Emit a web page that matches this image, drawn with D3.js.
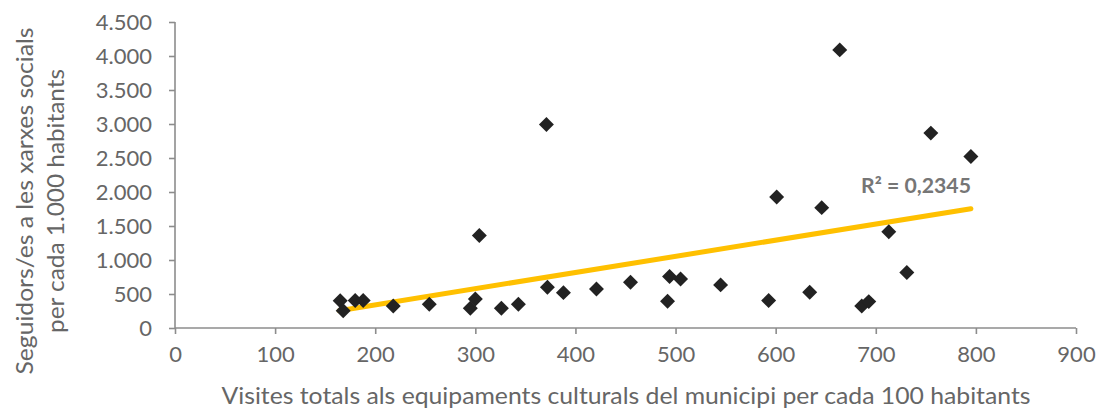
<!DOCTYPE html>
<html>
<head>
<meta charset="utf-8">
<script src="https://cdn.jsdelivr.net/npm/d3@7"></script>
<style>
  html, body { margin: 0; padding: 0; background: #fff; }
  svg { display: block; }
  text { font-family: Lato, "Open Sans", sans-serif; }
</style>
</head>
<body>
<svg id="chart" width="1097" height="410"></svg>
<script>
// ---- data ----
const visites = [165, 168, 180, 188, 218, 254, 295, 300, 304, 326, 343, 371, 372, 388, 421, 455, 492, 494, 505, 545, 593, 601, 634, 646, 664, 686, 693, 713, 731, 755, 795];
const seguidors = [400, 255, 403, 403, 324, 350, 290, 428, 1361, 290, 350, 2994, 600, 520, 575, 674, 394, 757, 722, 634, 403, 1928, 527, 1770, 4090, 324, 388, 1416, 816, 2866, 2522];
const trendX = [164, 795];
const trendY = [255, 1755];
const xTicks = [0, 100, 200, 300, 400, 500, 600, 700, 800, 900];
const yTicks = [0, 500, 1000, 1500, 2000, 2500, 3000, 3500, 4000, 4500];
const xTitle = "Visites totals als equipaments culturals del municipi per cada 100 habitants";
const yTitleLines = ["Seguidors/es a les xarxes socials", "per cada 1.000 habitants"];
const r2Label = "R² = 0,2345";

// ---- layout ----
const svg = d3.select("#chart");
const x = d3.scaleLinear().domain([0, 900]).range([175, 1076]);
const y = d3.scaleLinear().domain([0, 4500]).range([328, 22]);
const axisColor = "#8c8c8c";
const textColor = "#666666";
const fmt = v => d3.format(",")(v).replace(/,/g, ".");

// x axis
const gx = svg.append("g").attr("transform", `translate(0,${y(0)})`)
  .call(d3.axisBottom(x).tickValues(xTicks).tickSize(6).tickPadding(12).tickFormat(d => d));
gx.select(".domain").attr("stroke", axisColor).attr("stroke-width", 1.6)
  .attr("d", `M${x(0)},0H${x(900)}`);
gx.selectAll(".tick line").attr("stroke", axisColor).attr("stroke-width", 1.6);
gx.selectAll(".tick text").attr("fill", textColor).style("font-size", "22px")
  .style("font-family", "Lato, 'Open Sans', sans-serif");

// y axis
const gy = svg.append("g").attr("transform", `translate(${x(0)},0)`)
  .call(d3.axisLeft(y).tickValues(yTicks).tickSize(6).tickPadding(17).tickFormat(fmt));
gy.select(".domain").attr("stroke", axisColor).attr("stroke-width", 1.6)
  .attr("d", `M0,${y(4500)}V${y(0)}`);
gy.selectAll(".tick line").attr("stroke", axisColor).attr("stroke-width", 1.6);
gy.selectAll(".tick text").attr("fill", textColor).style("font-size", "22px")
  .style("font-family", "Lato, 'Open Sans', sans-serif");

// trend line
svg.append("line")
  .attr("x1", x(trendX[0])).attr("y1", y(trendY[0]))
  .attr("x2", x(trendX[1])).attr("y2", y(trendY[1]))
  .attr("stroke", "#FFC000").attr("stroke-width", 5).attr("stroke-linecap", "round");

// points (diamonds)
const diamond = d3.symbol().type(d3.symbolSquare).size(112);
svg.append("g").selectAll("path").data(visites.map((v, i) => [v, seguidors[i]]))
  .join("path")
  .attr("d", diamond)
  .attr("transform", d => `translate(${x(d[0])},${y(d[1])}) rotate(45)`)
  .attr("fill", "#222222");

// R² label
svg.append("text")
  .attr("x", 971).attr("y", 193)
  .attr("text-anchor", "end")
  .attr("fill", "#767676")
  .style("font-size", "21px").style("font-weight", "bold")
  .attr("textLength", 110).attr("lengthAdjust", "spacingAndGlyphs")
  .text(r2Label);

// x title
svg.append("text")
  .attr("x", 626).attr("y", 404)
  .attr("text-anchor", "middle")
  .attr("fill", textColor)
  .style("font-size", "24px")
  .attr("textLength", 809).attr("lengthAdjust", "spacingAndGlyphs")
  .text(xTitle);

// y title (two rotated lines)
const yLens = [347, 264];
const yBase = [33, 64];
yTitleLines.forEach((t, i) => {
  svg.append("text")
    .attr("transform", `translate(${yBase[i]},201) rotate(-90)`)
    .attr("text-anchor", "middle")
    .attr("fill", textColor)
    .style("font-size", "24px")
    .attr("textLength", yLens[i]).attr("lengthAdjust", "spacingAndGlyphs")
    .text(t);
});
</script>
</body>
</html>
